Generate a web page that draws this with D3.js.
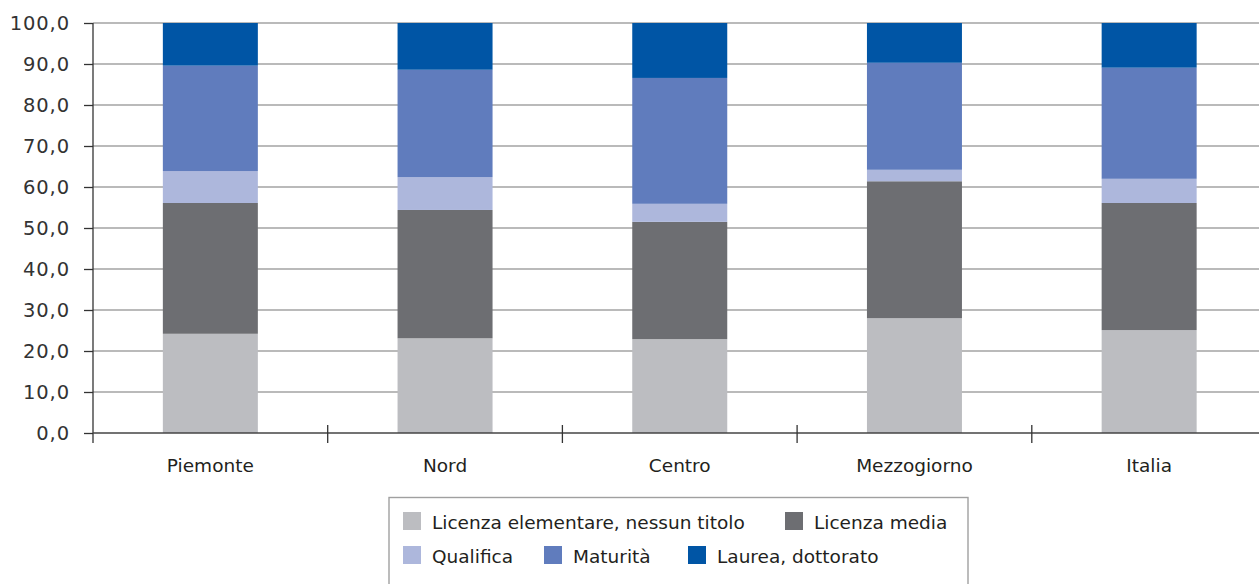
<!DOCTYPE html>
<html>
<head>
<meta charset="utf-8">
<script src="https://cdn.jsdelivr.net/npm/d3@7"></script>
<style>
  html, body { margin: 0; padding: 0; background: #fff; }
  svg { display: block; font-family: "DejaVu Sans", sans-serif; }
</style>
</head>
<body>
<svg id="chart" width="1259" height="584"></svg>
<script>
// ---- data ----
const categories = ["Piemonte", "Nord", "Centro", "Mezzogiorno", "Italia"];
const seriesNames = ["Licenza elementare, nessun titolo", "Licenza media", "Qualifica", "Maturità", "Laurea, dottorato"];
const licenzaElementare = [24.2, 23.1, 22.9, 28.0, 25.1];
const licenzaMedia      = [31.9, 31.3, 28.6, 33.4, 31.0];
const qualifica         = [7.8, 8.0, 4.4, 2.8, 5.9];
const maturita          = [25.7, 26.2, 30.7, 26.1, 27.1];
const laurea            = [10.4, 11.4, 13.4, 9.7, 10.9];
const yTicks = [0, 10, 20, 30, 40, 50, 60, 70, 80, 90, 100];

// ---- styles / layout ----
const colors = ["#bcbdc1", "#6d6e72", "#adb7dc", "#607cbd", "#0055a5"];
const W = 1259, H = 584;
const plot = { left: 93, top: 23, bottom: 433, step: 234.7 };
const barW = 95;

const svg = d3.select("#chart");

const seriesValues = [licenzaElementare, licenzaMedia, qualifica, maturita, laurea];
const rows = categories.map((c, i) => {
  const r = { cat: c };
  seriesNames.forEach((s, j) => r[s] = seriesValues[j][i]);
  return r;
});
const stacked = d3.stack().keys(seriesNames)(rows);

const x = d3.scaleBand().domain(categories)
  .range([plot.left, plot.left + plot.step * categories.length]).padding(0);
const y = d3.scaleLinear().domain([0, 100]).range([plot.bottom, plot.top]);

// gridlines
svg.append("g").selectAll("line").data(yTicks.filter(d => d > 0)).join("line")
  .attr("x1", plot.left).attr("x2", W)
  .attr("y1", d => y(d)).attr("y2", d => y(d))
  .attr("stroke", "#a3a3a3").attr("stroke-width", 1.4);

// bars
svg.append("g").selectAll("g").data(stacked).join("g")
  .attr("fill", (d, i) => colors[i])
  .selectAll("rect").data(d => d).join("rect")
  .attr("x", d => x(d.data.cat) + (x.bandwidth() - barW) / 2)
  .attr("width", barW)
  .attr("y", d => y(d[1]))
  .attr("height", d => y(d[0]) - y(d[1]));

// y axis
const yAxis = d3.axisLeft(y).tickValues(yTicks)
  .tickFormat(d => d3.format(".1f")(d).replace(".", ","))
  .tickSize(9).tickPadding(14);
const gy = svg.append("g").attr("transform", `translate(${plot.left},0)`).call(yAxis);
gy.select(".domain").attr("stroke", "#333").attr("stroke-width", 1.3)
  .attr("d", `M0,${plot.top}V${plot.bottom + 10}`);
gy.selectAll(".tick line").attr("stroke", "#333").attr("stroke-width", 1.3);
gy.selectAll(".tick text").attr("fill", "#333").attr("font-size", 19.5)
  .attr("letter-spacing", "0.9px")
  .attr("font-family", "DejaVu Sans, sans-serif");

// x axis
const gx = svg.append("g");
gx.append("line").attr("x1", plot.left).attr("x2", W)
  .attr("y1", plot.bottom).attr("y2", plot.bottom)
  .attr("stroke", "#444").attr("stroke-width", 1.6);
gx.selectAll("line.tk").data(categories).join("line").attr("class", "tk")
  .attr("x1", d => x(d) + x.bandwidth()).attr("x2", d => x(d) + x.bandwidth())
  .attr("y1", plot.bottom - 8).attr("y2", plot.bottom + 10)
  .attr("stroke", "#333").attr("stroke-width", 1.3);
gx.selectAll("text").data(categories).join("text")
  .attr("x", d => x(d) + x.bandwidth() / 2)
  .attr("y", 472)
  .attr("text-anchor", "middle")
  .attr("font-size", 18.5)
  .attr("fill", "#231f20")
  .text(d => d);

// legend
const legendPos = [
  { x: 403, y: 512 }, { x: 785, y: 512 },
  { x: 403, y: 546 }, { x: 544, y: 546 }, { x: 688, y: 546 }
];
const lg = svg.append("g");
lg.append("rect").attr("x", 389).attr("y", 497.5).attr("width", 579).attr("height", 100)
  .attr("fill", "none").attr("stroke", "#a0a0a0").attr("stroke-width", 1.4);
const items = lg.selectAll("g.item").data(seriesNames).join("g").attr("class", "item")
  .attr("transform", (d, i) => `translate(${legendPos[i].x},${legendPos[i].y})`);
items.append("rect").attr("width", 18).attr("height", 18).attr("fill", (d, i) => colors[i]);
items.append("text").attr("x", 29).attr("y", 17).attr("font-size", 18.5)
  .attr("fill", "#231f20").text(d => d);
</script>
</body>
</html>
